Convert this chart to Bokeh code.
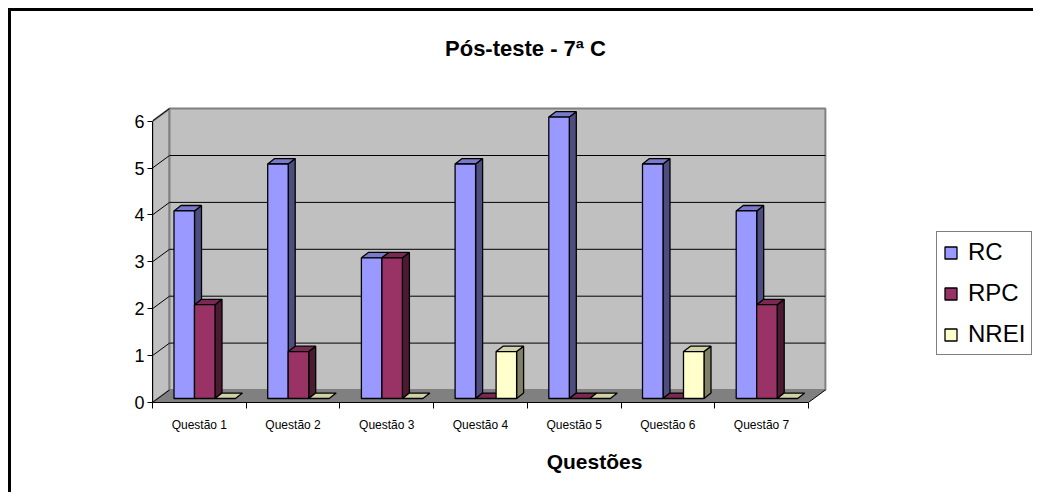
from bokeh.plotting import figure
from bokeh.models import Range1d, FixedTicker, Label, Legend, LegendItem
from bokeh.embed import file_html
from bokeh.resources import INLINE

# ---- data ----
categories = ["Questão 1", "Questão 2", "Questão 3", "Questão 4", "Questão 5", "Questão 6", "Questão 7"]
series_names = ["RC", "RPC", "NREI"]
rc = [4, 5, 3, 5, 6, 5, 4]
rpc = [2, 1, 3, 0, 0, 0, 2]
nrei = [0, 0, 0, 1, 0, 1, 0]
y_ticks = [0, 1, 2, 3, 4, 5, 6]
title_text = "Pós-teste - 7ª C"
x_title = "Questões"

# ---- styles ----
front_colors = ["#9999FF", "#993366", "#FFFFCC"]
side_colors = ["#4D4D80", "#4D1A33", "#808066"]
top_colors = ["#7A7ACC", "#7A2952", "#D2D2A8"]
FONT = "Liberation Sans"

# geometry (pixels -> data units)
PXX = 93.7   # px per category
PXY = 46.9   # px per value unit
W, H = 1025, 484
LEFT, BOTTOM = 141, 93
WDX, WDY = 17 / PXX, 12.5 / PXY      # wall depth
BDX, BDY = 5.4 / PXX, 4.0 / PXY      # bar depth position
SDX, SDY = 7.0 / PXX, 5.4 / PXY      # bar depth size
BW = 20.5 / PXX                      # bar width
ncat = len(categories)
ymax = max(y_ticks)

p = figure(width=W, height=H, output_backend="svg", toolbar_location=None,
           x_range=Range1d(0, (W - LEFT) / PXX), y_range=Range1d(0, (H - BOTTOM) / PXY),
           min_border_left=LEFT, min_border_bottom=BOTTOM, min_border_top=0, min_border_right=0)
p.styles = {"border-left": "3px solid black", "border-top": "3px solid black",
            "margin-left": "8px", "margin-top": "8px"}
p.outline_line_color = None
p.xgrid.visible = False
p.ygrid.visible = False
p.background_fill_color = "white"
p.border_fill_color = "white"

# walls and floor
p.patch([0, WDX, WDX, 0], [0, WDY, ymax + WDY, ymax], fill_color="#C0C0C0",
        line_color="#808080", line_width=2)
p.patch([WDX, ncat + WDX, ncat + WDX, WDX], [WDY, WDY, ymax + WDY, ymax + WDY],
        fill_color="#C0C0C0", line_color="#808080", line_width=2)
p.patch([0, ncat, ncat + WDX, WDX], [0, 0, WDY, WDY], fill_color="#808080", line_color=None)
p.segment(x0=[ncat], y0=[0], x1=[ncat + WDX], y1=[WDY], line_color="black", line_width=1)

# gridlines on walls
inner = [v for v in y_ticks if 0 < v < ymax]
p.segment(x0=[WDX] * len(inner), y0=[v + WDY for v in inner],
          x1=[ncat + WDX] * len(inner), y1=[v + WDY for v in inner],
          line_color="black", line_width=1)
p.segment(x0=[0] * len(y_ticks), y0=y_ticks, x1=[WDX] * len(y_ticks),
          y1=[v + WDY for v in y_ticks], line_color="black", line_width=1)

# bars
gap = (1 - 3 * BW) / 2
fronts = []
for si, vals in enumerate([rc, rpc, nrei]):
    fx, fy, sx, sy, tx, ty = [], [], [], [], [], []
    for ci, v in enumerate(vals):
        x0 = ci + gap + si * BW + BDX
        x1 = x0 + BW
        b = BDY
        t = BDY + v
        if v > 0:
            fx.append([x0, x1, x1, x0]); fy.append([b, b, t, t])
            sx.append([x1, x1 + SDX, x1 + SDX, x1]); sy.append([b, b + SDY, t + SDY, t])
        tx.append([x0, x1, x1 + SDX, x0 + SDX]); ty.append([t, t, t + SDY, t + SDY])
    p.patches(sx, sy, fill_color=side_colors[si], line_color="black", line_width=1.3)
    p.patches(tx, ty, fill_color=top_colors[si], line_color="black", line_width=1.3)
    r = p.patches(fx, fy, fill_color=front_colors[si], line_color="black", line_width=1.3)
    fronts.append(r)

# axes
yax = p.yaxis[0]
yax.ticker = FixedTicker(ticks=y_ticks)
yax.bounds = (0, ymax)
yax.axis_line_color = "black"
yax.major_tick_out = 5
yax.major_tick_in = 0
yax.minor_tick_line_color = None
yax.major_label_standoff = 3
yax.major_label_text_font = FONT
yax.major_label_text_font_size = "18px"
yax.major_label_text_color = "black"

xax = p.xaxis[0]
xax.ticker = FixedTicker(ticks=[i + 0.5 for i in range(ncat)], minor_ticks=list(range(ncat + 1)))
xax.major_label_overrides = {i + 0.5: c for i, c in enumerate(categories)}
xax.bounds = (0, ncat)
xax.axis_line_color = "black"
xax.major_tick_out = 0
xax.major_tick_in = 0
xax.major_tick_line_color = None
xax.minor_tick_out = 6
xax.minor_tick_in = 0
xax.minor_tick_line_color = "black"
xax.major_label_standoff = 9
xax.major_label_text_font = FONT
xax.major_label_text_font_size = "12px"
xax.major_label_text_color = "black"
xax.axis_label = x_title
xax.axis_label_text_font = FONT
xax.axis_label_text_font_style = "bold"
xax.axis_label_text_font_size = "21px"
xax.axis_label_standoff = 15
xax.axis_label_text_color = "black"

# title
p.add_layout(Label(x=(525 - 152) / PXX, y=(402 - 48) / PXY, text=title_text,
                   text_font=FONT, text_font_style="bold", text_font_size="22px",
                   text_align="center", text_baseline="middle", text_color="black"))

# legend
legend = Legend(items=[LegendItem(label=n, renderers=[r]) for n, r in zip(series_names, fronts)],
                location=(784, 47), border_line_color="black", border_line_width=1,
                background_fill_color="white", background_fill_alpha=1.0,
                label_text_font=FONT, label_text_font_size="24px", label_text_color="black",
                glyph_width=15, glyph_height=15, label_standoff=10, label_height=24,
                padding=6, spacing=13, margin=0)
p.add_layout(legend)

open("out.html", "w").write(file_html(p, INLINE))
